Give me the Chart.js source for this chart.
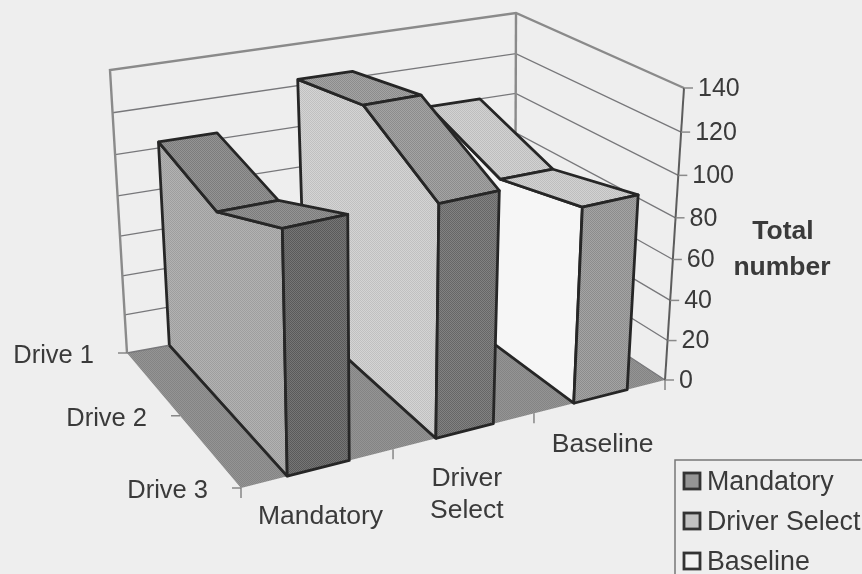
<!DOCTYPE html>
<html>
<head>
<meta charset="utf-8">
<title>Total number</title>
<script src="https://cdn.jsdelivr.net/npm/chart.js@4/dist/chart.umd.min.js"></script>
<style>
  html, body { margin: 0; padding: 0; background: #eeeeee; overflow: hidden; }
  canvas { display: block; }
</style>
</head>
<body>
<canvas id="chart" width="862" height="574"></canvas>
<script>
// Valores
const categories = ['Mandatory', 'Driver Select', 'Baseline'];
const categoryLabels = [['Mandatory'], ['Driver', 'Select'], ['Baseline']];
const drives = ['Drive 1', 'Drive 2', 'Drive 3'];
const mandatory = [103, 95, 115];
const driverSelect = [123, 132, 111];
const baseline = [100, 85, 95];
const valueTicks = [0, 20, 40, 60, 80, 100, 120, 140];
const valueMax = 140;

// Calibragem da caixa 3D na tela (cantos do piso e do topo)
const floorBox = { fl: [241, 488], fr: [665, 380], bl: [127, 353], br: [515, 282] };
const topBox = { fl: [232, 181], fr: [684, 88], bl: [110, 70], br: [516, 13] };
const bandHalf = 0.068;
const textColor = '#3a3a3a';
const font = '"Liberation Sans", Arial, sans-serif';

function warp(t, w) { return t * w / (1 + t * (w - 1)); }
function lerp(a, b, t) { return [a[0] + (b[0] - a[0]) * t, a[1] + (b[1] - a[1]) * t]; }
function bilerp(box, u, t) { return lerp(lerp(box.fl, box.fr, u), lerp(box.bl, box.br, u), t); }

// cat: 0 esquerda..1 direita, depth: 0 frente..1 fundo
function project(cat, depth, value) {
    const u = warp(cat, 1.118), t = warp(depth, 1.15), s = warp(value / valueMax, 0.937);
    const p = lerp(bilerp(floorBox, u, t), bilerp(topBox, u, t), s);
    return { x: p[0], y: p[1] };
}

// Retícula fina parecida com a da impressão
function stipple(base, delta) {
    const c = document.createElement('canvas');
    c.width = c.height = 2;
    const g = c.getContext('2d');
    const tone = v => `rgb(${v},${v},${v})`;
    g.fillStyle = tone(base + delta); g.fillRect(0, 0, 2, 2);
    g.fillStyle = tone(base - delta); g.fillRect(0, 0, 1, 1); g.fillRect(1, 1, 1, 1);
    return g.createPattern(c, 'repeat');
}

const datasets = [];
function polygon(points, fill, border, width) {
    datasets.push({
        data: points.concat([points[0]]), fill: 'shape', backgroundColor: fill,
        borderColor: border || 'rgba(0,0,0,0)', borderWidth: width === undefined ? 2.8 : width,
        borderJoinStyle: 'round', pointRadius: 0, tension: 0, showLine: true, clip: false
    });
}
function line(points, color, width) {
    datasets.push({
        data: points, fill: false, borderColor: color, borderWidth: width,
        pointRadius: 0, tension: 0, showLine: true, clip: false
    });
}

// Piso
polygon([project(0, 0, 0), project(1, 0, 0), project(1, 1, 0), project(0, 1, 0)], stipple(140, 8), null, 0);

// Grade das paredes
valueTicks.forEach(v => {
    if (v === valueMax) return;
    line([project(0, 1, v), project(1, 1, v), project(1, 0, v)], '#77777a', 1.3);
});
// Contorno das paredes
line([project(0, 1, 0), project(0, 1, valueMax), project(1, 1, valueMax), project(1, 0, valueMax)], '#8a8a8a', 2.4);
line([project(1, 1, 0), project(1, 1, valueMax)], '#8a8a8a', 2.4);
line([project(1, 0, 0), project(1, 0, valueMax)], '#5c5c5c', 2);

// Séries, de trás para a frente
const seriesList = [
    { values: baseline, index: 2, side: stipple(246, 0), top: stipple(200, 10), front: stipple(152, 12) },
    { values: driverSelect, index: 1, side: stipple(202, 10), top: stipple(152, 12), front: stipple(116, 14) },
    { values: mandatory, index: 0, side: stipple(168, 10), top: stipple(136, 12), front: stipple(104, 14) }
];
seriesList.forEach(s => {
    const c = (s.index + 0.5) / categories.length;
    const l = c - bandHalf, r = c + bandHalf;
    const depth = i => 1 - i / (drives.length - 1);
    const sidePts = [project(l, 1, 0)];
    s.values.forEach((v, i) => sidePts.push(project(l, depth(i), v)));
    sidePts.push(project(l, 0, 0));
    polygon(sidePts, s.side, '#262626');
    for (let i = 0; i < s.values.length - 1; i++) {
        polygon([
            project(l, depth(i), s.values[i]), project(r, depth(i), s.values[i]),
            project(r, depth(i + 1), s.values[i + 1]), project(l, depth(i + 1), s.values[i + 1])
        ], s.top, '#262626');
    }
    const last = s.values[s.values.length - 1];
    polygon([project(l, 0, 0), project(r, 0, 0), project(r, 0, last), project(l, 0, last)], s.front, '#262626');
});

// Marcas dos eixos
valueTicks.forEach(v => {
    const p = project(1, 0, v);
    line([{ x: p.x, y: p.y }, { x: p.x + 9, y: p.y }], '#8a8a8a', 1.5);
});
drives.forEach((d, i) => {
    const p = project(0, 1 - i / (drives.length - 1), 0);
    line([{ x: p.x, y: p.y }, { x: p.x - 9, y: p.y }], '#777777', 1.3);
});
[0, 1 / 3, 2 / 3, 1].forEach(cat => {
    const p = project(cat, 0, 0);
    line([{ x: p.x, y: p.y }, { x: p.x, y: p.y + 10 }], '#777777', 1.3);
});

// Textos e legenda
const labelsPlugin = {
    id: 'labels3d',
    afterDraw(chart) {
        const ctx = chart.ctx;
        const sx = chart.scales.x, sy = chart.scales.y;
        ctx.save();
        ctx.fillStyle = textColor;
        ctx.textBaseline = 'middle';
        ctx.font = '25px ' + font;
        ctx.textAlign = 'left';
        valueTicks.forEach(v => {
            const p = project(1, 0, v);
            ctx.fillText(String(v), sx.getPixelForValue(p.x) + 14, sy.getPixelForValue(p.y) + 1);
        });
        ctx.font = '25.5px ' + font;
        ctx.textAlign = 'right';
        drives.forEach((d, i) => {
            const p = project(0, 1 - i / (drives.length - 1), 0);
            ctx.fillText(d, sx.getPixelForValue(p.x) - 33, sy.getPixelForValue(p.y) + 3);
        });
        ctx.font = '26.5px ' + font;
        ctx.textAlign = 'center';
        categoryLabels.forEach((rows, i) => {
            const p = project((i + 0.5) / categories.length, 0, 0);
            rows.forEach((row, k) => {
                ctx.fillText(row, sx.getPixelForValue(p.x) + 2, sy.getPixelForValue(p.y) + 48 + k * 32);
            });
        });
        ctx.font = 'bold 26.5px ' + font;
        ctx.fillText('Total', 783, 232);
        ctx.fillText('number', 782, 268);

        // Legenda (cortada pela borda da figura, como no original)
        ctx.strokeStyle = '#777777';
        ctx.lineWidth = 1.5;
        ctx.beginPath();
        ctx.moveTo(675, 574); ctx.lineTo(675, 460); ctx.lineTo(862, 460);
        ctx.stroke();
        const swatches = ['#959595', '#c2c2c2', '#f2f2f2'];
        ctx.font = '26.8px ' + font;
        ctx.textAlign = 'left';
        categories.forEach((name, i) => {
            const y = 481 + i * 40;
            ctx.fillStyle = swatches[i];
            ctx.strokeStyle = '#333333';
            ctx.lineWidth = 2.8;
            ctx.fillRect(684, y - 8, 16, 16);
            ctx.strokeRect(684, y - 8, 16, 16);
            ctx.fillStyle = textColor;
            ctx.fillText(name, 707, y + 2);
        });
        ctx.restore();
    }
};

// O primeiro conjunto da lista é desenhado por baixo
datasets.forEach((d, i) => { d.order = datasets.length - i; });

new Chart(document.getElementById('chart').getContext('2d'), {
    type: 'scatter',
    data: { datasets },
    options: {
        responsive: false,
        animation: false,
        layout: { padding: 0 },
        plugins: { legend: { display: false }, tooltip: { enabled: false } },
        scales: {
            x: { type: 'linear', display: false, min: 0, max: 862 },
            y: { type: 'linear', display: false, min: 0, max: 574, reverse: true }
        }
    },
    plugins: [labelsPlugin]
});
</script>
</body>
</html>
